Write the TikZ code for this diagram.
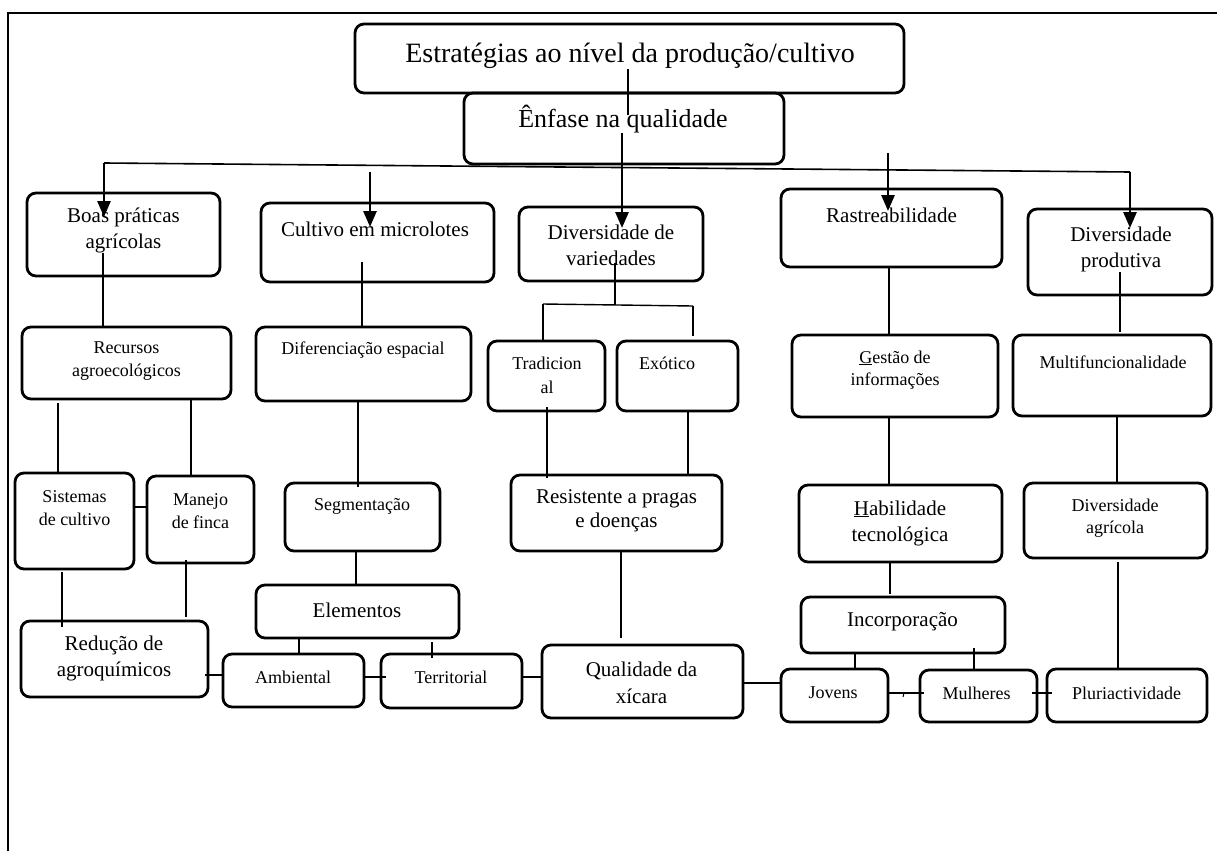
\documentclass[tikz,border=0pt]{standalone}
\usepackage{fontspec}
\setmainfont{Liberation Serif}
\usetikzlibrary{arrows.meta,calc}
\begin{document}
\begin{tikzpicture}[x=1pt,y=-1pt,
  box/.style={draw, line width=2.8pt, rounded corners=9pt, inner sep=0pt, outer sep=0pt},
  lbl/.style={inner sep=0pt, align=center},
  big/.style={lbl, font=\fontsize{21}{26}\selectfont},
  small/.style={lbl, font=\fontsize{18}{22.5}\selectfont},
  conn/.style={line width=1.4pt},
  arr/.style={line width=2.8pt, -{Triangle[width=13pt,length=16pt]}},
]
\useasboundingbox (0,0) rectangle (1217,851);
% page frame
\draw[line width=1.5pt] (8,851) -- (8,13) -- (1217,13);

% ---------- boxes ----------
\node[box, minimum width=549pt, minimum height=69pt] (estr) at (629.5,58.5) {};
\node[box, minimum width=320pt, minimum height=71pt] (enf) at (624,128.5) {};

\node[box, minimum width=193pt, minimum height=83pt] (boas) at (123.5,234.5) {};
\node[box, minimum width=233pt, minimum height=79pt] (cult) at (377.5,242.5) {};
\node[box, minimum width=184pt, minimum height=74pt] (dvar) at (611,244) {};
\node[box, minimum width=221pt, minimum height=78pt] (rast) at (891.5,228) {};
\node[box, minimum width=184pt, minimum height=86pt] (dprod) at (1120,252) {};

\node[box, minimum width=209pt, minimum height=72pt] (recur) at (126.5,363) {};
\node[box, minimum width=215pt, minimum height=74pt] (difer) at (363.5,364) {};
\node[box, minimum width=117pt, minimum height=70pt] (trad) at (546.5,376) {};
\node[box, minimum width=121pt, minimum height=70pt] (exot) at (677.5,376) {};
\node[box, minimum width=206pt, minimum height=82pt] (gest) at (895,376) {};
\node[box, minimum width=198pt, minimum height=81pt] (mult) at (1112,375.5) {};

\node[box, minimum width=119pt, minimum height=96pt] (sist) at (74.5,521) {};
\node[box, minimum width=107pt, minimum height=87pt] (manejo) at (200.5,519.5) {};
\node[box, minimum width=155pt, minimum height=68pt] (seg) at (362.5,517) {};
\node[box, minimum width=211pt, minimum height=76pt] (resist) at (616.5,513) {};
\node[box, minimum width=203pt, minimum height=77pt] (habil) at (900.5,523.5) {};
\node[box, minimum width=183pt, minimum height=75pt] (dagr) at (1115.5,520.5) {};

\node[box, minimum width=203pt, minimum height=53pt] (elem) at (357.5,611.5) {};
\node[box, minimum width=204pt, minimum height=56pt] (incorp) at (903,625) {};
\node[box, minimum width=187pt, minimum height=76pt] (reduc) at (114.5,659) {};
\node[box, minimum width=141pt, minimum height=53pt] (amb) at (293.5,680.5) {};
\node[box, minimum width=141pt, minimum height=54pt] (terr) at (451.5,681) {};
\node[box, minimum width=201pt, minimum height=73pt] (qual) at (642.5,681.5) {};
\node[box, minimum width=107pt, minimum height=53pt] (jov) at (834.5,695.5) {};
\node[box, minimum width=117pt, minimum height=52pt] (mulh) at (978.5,696) {};
\node[box, minimum width=160pt, minimum height=53pt] (pluri) at (1127,695.5) {};

% ---------- texts ----------
\node[lbl, anchor=base, font=\fontsize{28}{34}\selectfont] (estrT) at (630,63) {Estratégias ao nível da produção/cultivo};
\node[lbl, anchor=base, font=\fontsize{26}{31}\selectfont] (enfT) at (623,127) {Ênfase na qualidade};

\node[big] (boasT) at (123.5,230.5) {Boas práticas\\agrícolas};
\node[big] (cultT) at (375,229) {Cultivo em microlotes};
\node[big] (dvarT) at (611,245.5) {Diversidade de\\variedades};
\node[big] (rastT) at (891.5,215) {Rastreabilidade};
\node[big] (dprodT) at (1121,249.5) {Diversidade\\produtiva};

\node[small] (recurT) at (126.5,361) {Recursos\\agroecológicos};
\node[small] (diferT) at (363,350) {Diferenciação espacial};
\node[small, font=\fontsize{18}{24}\selectfont] (tradT) at (547,375) {Tradicion\\al};
\node[small] (exotT) at (667,363) {Exótico};
\node[small] (gestT) at (895,370) {\underline{G}estão de\\informações};
\node[small] (multT) at (1113,362) {Multifuncionalidade};

\node[small] (sistT) at (74.5,508) {Sistemas\\de cultivo};
\node[small] (manejoT) at (200.5,511) {Manejo\\de finca};
\node[small] (segT) at (362,506) {Segmentação};
\node[big, font=\fontsize{21}{24}\selectfont] (resistT) at (616.5,511) {Resistente a pragas\\e doenças};
\node[big] (habilT) at (900,523) {\underline{H}abilidade\\tecnológica};
\node[small] (dagrT) at (1115,518) {Diversidade\\agrícola};

\node[big] (elemT) at (357,610) {Elementos};
\node[big] (incorpT) at (902.5,622) {Incorporação};
\node[big] (reducT) at (114,658) {Redução de\\agroquímicos};
\node[small] (ambT) at (293,677) {Ambiental};
\node[small] (terrT) at (451,677) {Territorial};
\node[big, font=\fontsize{21}{27}\selectfont] (qualT) at (641.5,682.5) {Qualidade da\\xícara};
\node[small] (jovT) at (833,693) {Jovens};
\node[small] (mulhT) at (976.5,693) {Mulheres};
\node[small] (pluriT) at (1126.5,693) {Pluriactividade};

% ---------- top of the tree ----------
\coordinate (barL) at (104,163);
\coordinate (barR) at (1130,172);
\coordinate (cultA) at (370,172);
\coordinate (dvarA) at (622,168);
\coordinate (rastA) at (888,153);

\draw[conn] (estrT.south -| 628,0) -- ($(enf.north -| 628,0)+(0,22)$);
\draw[conn] (enfT.south -| 622,0) -- (dvarA);
\draw[line width=1.6pt] (barL) -- (barR);

\draw[arr] (barL) -- ($(boas.north -| barL)+(0,24)$);
\draw[arr] (cultA) -- ($(cult.north -| cultA)+(0,24)$);
\draw[arr] (dvarA) -- ($(dvar.north -| dvarA)+(0,21)$);
\draw[arr] (rastA) -- ($(rast.north -| rastA)+(0,22)$);
\draw[arr] (barR) -- ($(dprod.north -| barR)+(0,19)$);

% ---------- first level to second level ----------
\draw[conn] (boasT.south -| 103,0) -- (recur.north -| 103,0);
\draw[conn] ($(cult.south -| 362,0)+(0,-20)$) -- (difer.north -| 362,0);

\coordinate (split) at (615,305);
\coordinate (splitL) at (543,304);
\coordinate (splitR) at (693,306);
\draw[conn] ($(dvar.south -| split)+(0,-18)$) -- (split);
\draw[conn] (splitL) -- (splitR);
\draw[conn] (splitL) -- (trad.north -| splitL);
\draw[conn] (splitR) -- ($(exot.north -| splitR)+(0,-5)$);

\draw[conn] (rast.south -| 889,0) -- (gest.north -| 889,0);
\draw[conn] ($(dprod.south -| 1120,0)+(0,-23)$) -- ($(mult.north -| 1120,0)+(0,-3)$);

% ---------- second level to third level ----------
\draw[conn] ($(recur.south -| 58,0)+(0,4)$) -- (sist.north -| 58,0);
\draw[conn] (recur.south -| 191,0) -- (manejo.north -| 191,0);
\draw[conn] (difer.south -| 358,0) -- ($(seg.north -| 358,0)+(0,4)$);
\draw[conn] ($(trad.south -| 547,0)+(0,-4)$) -- ($(resist.north -| 547,0)+(0,3)$);
\draw[conn] (exot.south -| 688,0) -- (resist.north -| 688,0);
\draw[conn] (gest.south -| 889,0) -- (habil.north -| 889,0);
\draw[conn] (mult.south -| 1117,0) -- (dagr.north -| 1117,0);

% ---------- third level to fourth level ----------
\draw[conn] ($(sist.south -| 62,0)+(0,3)$) -- ($(reduc.north -| 62,0)+(0,6)$);
\draw[conn] ($(manejo.south -| 186,0)+(0,-3)$) -- ($(reduc.north -| 186,0)+(0,-4)$);
\draw[conn] (seg.south -| 356,0) -- (elem.north -| 356,0);
\draw[conn] (resist.south -| 621,0) -- ($(qual.north -| 621,0)+(0,-7)$);
\draw[conn] (habil.south -| 890,0) -- ($(incorp.north -| 890,0)+(0,-3)$);
\draw[conn] ($(dagr.south -| 1118,0)+(0,4)$) -- (pluri.north -| 1118,0);
\draw[conn] (elem.south -| 299,0) -- (amb.north -| 299,0);
\draw[conn] ($(elem.south -| 432,0)+(0,4)$) -- ($(terr.north -| 432,0)+(0,4)$);
\draw[conn] (incorp.south -| 855,0) -- (jov.north -| 855,0);
\draw[conn] ($(incorp.south -| 974,0)+(0,-5)$) -- (mulh.north -| 974,0);

% ---------- side links ----------
\draw[conn] (sist.east |- 0,507) -- (manejo.west |- 0,507);
\draw[conn] ($(reduc.east |- 0,675)+(-3,0)$) -- (amb.west |- 0,675);
\draw[conn] (amb.east |- 0,677) -- ($(terr.west |- 0,677)+(5,0)$);
\draw[conn] (terr.east |- 0,677) -- (qual.west |- 0,677);
\draw[conn] (qual.east |- 0,683) -- (jov.west |- 0,683);
\draw[conn] (jov.east |- 0,693) -- ($(mulh.west |- 0,693)+(4,0)$);
\draw[line width=1pt] (904,693) -- (903,697);
\draw[conn] ($(mulh.east |- 0,693)+(-5,0)$) -- ($(pluri.west |- 0,693)+(5,0)$);
\end{tikzpicture}
\end{document}
